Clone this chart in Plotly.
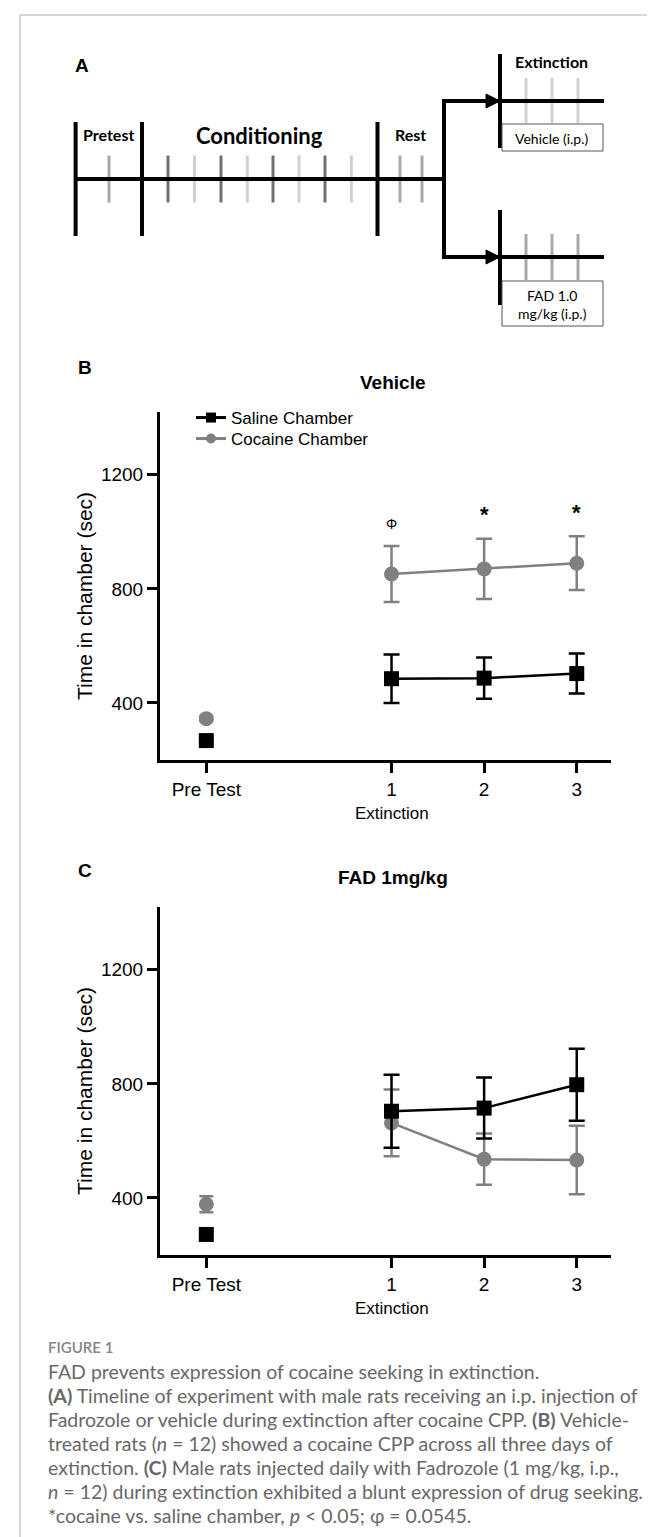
import plotly.graph_objects as go

W, H = 655, 1537

# ------------------------------------------------------------------ data
x_tick_vals = [-1, 1, 2, 3]
x_tick_labels = ["Pre Test", "1", "2", "3"]
pretest_x = [-1]
extinction_days = [1, 2, 3]
y_tick_vals = [400, 800, 1200]

# Panel B - Vehicle
veh_saline_pre = [268]
veh_saline_pre_sem = [8]
veh_cocaine_pre = [345]
veh_cocaine_pre_sem = [8]
veh_saline = [485, 487, 503]
veh_saline_sem = [85, 72, 70]
veh_cocaine = [852, 870, 890]
veh_cocaine_sem = [98, 106, 94]
veh_sig_labels = ["Φ", "*", "*"]

# Panel C - FAD 1 mg/kg
fad_saline_pre = [272]
fad_saline_pre_sem = [8]
fad_cocaine_pre = [378]
fad_cocaine_pre_sem = [28]
fad_saline = [704, 715, 797]
fad_saline_sem = [128, 107, 126]
fad_cocaine = [663, 536, 533]
fad_cocaine_sem = [117, 90, 120]

series_names = ["Saline Chamber", "Cocaine Chamber"]

caption_lines = [
    "FAD prevents expression of cocaine seeking in extinction.",
    "<b>(A)</b> Timeline of experiment with male rats receiving an i.p. injection of",
    "Fadrozole or vehicle during extinction after cocaine CPP. <b>(B)</b> Vehicle-",
    "treated rats (<i>n</i> = 12) showed a cocaine CPP across all three days of",
    "extinction. <b>(C)</b> Male rats injected daily with Fadrozole (1 mg/kg, i.p.,",
    "<i>n</i> = 12) during extinction exhibited a blunt expression of drug seeking.",
    "*cocaine vs. saline chamber, <i>p</i> &lt; 0.05; φ = 0.0545.",
]

# ------------------------------------------------------------------ style
BLACK = "#000000"
GREY = "#808080"
PLOT_FONT = "Liberation Sans, Arial, sans-serif"
DIAG_FONT = "Lato, Open Sans, sans-serif"
CAP_FONT = "Lato, Open Sans, sans-serif"


def py(p):  # pixel from top -> paper y
    return 1 - p / H


def px(p):
    return p / W


fig = go.Figure()

panels = [
    dict(xa="x", ya="y", top=404, bottom=752, title="Vehicle", letter="B", letter_y=359,
         s_pre=veh_saline_pre, s_pre_e=veh_saline_pre_sem,
         c_pre=veh_cocaine_pre, c_pre_e=veh_cocaine_pre_sem,
         s=veh_saline, s_e=veh_saline_sem, c=veh_cocaine, c_e=veh_cocaine_sem),
    dict(xa="x2", ya="y2", top=899, bottom=1247, title="FAD 1mg/kg", letter="C", letter_y=862,
         s_pre=fad_saline_pre, s_pre_e=fad_saline_pre_sem,
         c_pre=fad_cocaine_pre, c_pre_e=fad_cocaine_pre_sem,
         s=fad_saline, s_e=fad_saline_sem, c=fad_cocaine, c_e=fad_cocaine_sem),
]


def err(arr, color, w=8):
    return dict(type="data", array=arr, visible=True, thickness=2.5, width=w, color=color)


for p in panels:
    # cocaine (grey) first, saline (black) on top
    fig.add_trace(go.Scatter(x=pretest_x, y=p["c_pre"], mode="markers",
                             marker=dict(symbol="circle", size=15, color=GREY),
                             error_y=err(p["c_pre_e"], GREY, 7), showlegend=False,
                             xaxis=p["xa"], yaxis=p["ya"]))
    fig.add_trace(go.Scatter(x=extinction_days, y=p["c"], mode="lines+markers",
                             line=dict(color=GREY, width=2.5),
                             marker=dict(symbol="circle", size=15, color=GREY),
                             error_y=err(p["c_e"], GREY), showlegend=False,
                             xaxis=p["xa"], yaxis=p["ya"]))
    fig.add_trace(go.Scatter(x=pretest_x, y=p["s_pre"], mode="markers",
                             marker=dict(symbol="square", size=15, color=BLACK),
                             error_y=err(p["s_pre_e"], BLACK, 7), showlegend=False,
                             xaxis=p["xa"], yaxis=p["ya"]))
    fig.add_trace(go.Scatter(x=extinction_days, y=p["s"], mode="lines+markers",
                             line=dict(color=BLACK, width=2.5),
                             marker=dict(symbol="square", size=15, color=BLACK),
                             error_y=err(p["s_e"], BLACK), showlegend=False,
                             xaxis=p["xa"], yaxis=p["ya"]))

# legend entries (Vehicle panel) - one legend per row
fig.add_trace(go.Scatter(x=[None], y=[None], mode="lines+markers", name=series_names[0],
                         line=dict(color=BLACK, width=3), legend="legend",
                         marker=dict(symbol="square", size=10, color=BLACK)))
fig.add_trace(go.Scatter(x=[None], y=[None], mode="lines+markers", name=series_names[1],
                         line=dict(color=GREY, width=3), legend="legend2",
                         marker=dict(symbol="circle", size=10, color=GREY)))

# invisible anchor trace for the timeline diagram axes
fig.add_trace(go.Scatter(x=[None], y=[None], xaxis="x3", yaxis="y3", showlegend=False,
                         hoverinfo="skip"))

axis_common = dict(showline=True, linewidth=3, linecolor=BLACK, ticks="outside",
                   ticklen=10, tickwidth=3, tickcolor=BLACK, showgrid=False,
                   zeroline=False, tickfont=dict(family=PLOT_FONT, size=19, color=BLACK))

leg_common = dict(xanchor="left", yanchor="middle", bgcolor="rgba(0,0,0,0)",
                  borderwidth=0, itemwidth=30,
                  font=dict(family=PLOT_FONT, size=17, color=BLACK))
layout = dict(
    width=W, height=H, margin=dict(l=0, r=0, t=0, b=0),
    paper_bgcolor="white", plot_bgcolor="rgba(0,0,0,0)",
    showlegend=True,
    legend=dict(leg_common, x=px(183), y=py(410)),
    legend2=dict(leg_common, x=px(183), y=py(431)),
    xaxis3=dict(domain=[0, 1], range=[0, W], visible=False, anchor="y3", fixedrange=True),
    yaxis3=dict(domain=[py(340), 1], range=[340, 0], visible=False, anchor="x3",
                fixedrange=True),
)
for i, p in enumerate(panels):
    sx = "" if i == 0 else "2"
    layout["xaxis" + sx] = dict(axis_common, domain=[px(152), px(603)], range=[-1.5, 3.37],
                                tickvals=x_tick_vals, ticktext=x_tick_labels,
                                anchor="y" + sx)
    layout["yaxis" + sx] = dict(axis_common, domain=[py(p["bottom"]), py(p["top"])],
                                range=[200, 1420], tickvals=y_tick_vals,
                                anchor="x" + sx)
fig.update_layout(**layout)

ann = []
shapes = []


def text_ann(text, x, y, size, family=PLOT_FONT, color=BLACK, weight=None, **kw):
    font = dict(family=family, size=size, color=color)
    if weight is not None:
        font["weight"] = weight
    d = dict(text=text, x=x, y=y, xref="paper", yref="paper", showarrow=False,
             xanchor="center", yanchor="middle", font=font)
    d.update(kw)
    ann.append(d)


# panel titles, letters, axis titles
for p in panels:
    text_ann("<b>%s</b>" % p["letter"], px(77), py(p["letter_y"]), 19)
    text_ann("<b>%s</b>" % p["title"], px(385), py(p["top"] - 30), 19)
    text_ann("Time in chamber (sec)", px(76), py(p["top"] + 184), 21, textangle=-90)
    text_ann("Extinction", px(384), py(p["bottom"] + 53), 17)

# significance markers (Vehicle panel)
for d, m, e, lab in zip(extinction_days, veh_cocaine, veh_cocaine_sem, veh_sig_labels):
    is_star = lab == "*"
    ann.append(dict(text="<b>*</b>" if is_star else lab, x=d, y=m + e, xref="x", yref="y",
                    showarrow=False, xanchor="center", yanchor="middle",
                    yshift=24 if is_star else 22,
                    font=dict(family=PLOT_FONT, size=22 if is_star else 14, color=BLACK)))

# ---------------------------------------------------------- timeline diagram
TL_Y = 171
phase_bars = [67.6, 134, 369.5]
pretest_ticks = [101]
cond_ticks = [160, 186.5, 213, 239.3, 265, 291, 317, 343.4]
rest_ticks = [392, 414]
branch_x = 436
ext_bar_x = 492
ext_end = 596
ext_ticks = [518, 544, 570]
branches = [dict(y=93, bar=(46, 140), tick=(70, 115), box=(116, 143), tcol="#d0d0d0"),
            dict(y=249, bar=(202, 297), tick=(226, 272), box=(273, 318), tcol="#a8a8a8")]
DARK_T, LIGHT_T, MID_T = "#707070", "#d0d0d0", "#a8a8a8"


def line(x0, y0, x1, y1, color=BLACK, width=4):
    shapes.append(dict(type="line", xref="x3", yref="y3", x0=x0, y0=y0, x1=x1, y1=y1,
                       line=dict(color=color, width=width)))


for t in pretest_ticks:
    line(t, TL_Y - 23.5, t, TL_Y + 23.5, MID_T, 3)
for i, t in enumerate(cond_ticks):
    line(t, TL_Y - 23.5, t, TL_Y + 23.5, DARK_T if i % 2 == 0 else LIGHT_T, 3)
for t in rest_ticks:
    line(t, TL_Y - 23.5, t, TL_Y + 23.5, MID_T, 3)
line(phase_bars[0], TL_Y, branch_x, TL_Y)
for b in phase_bars:
    line(b, TL_Y - 57, b, TL_Y + 57)
line(branch_x, branches[0]["y"] - 2, branch_x, branches[1]["y"] + 2)
for br in branches:
    for t in ext_ticks:
        line(t, br["tick"][0], t, br["tick"][1], br["tcol"], 3)
    line(branch_x, br["y"], ext_end, br["y"])
    line(ext_bar_x, br["bar"][0], ext_bar_x, br["bar"][1])
    shapes.append(dict(type="path", xref="x3", yref="y3",
                       path="M %f %f L %f %f L %f %f Z" % (ext_bar_x - 14, br["y"] - 7,
                                                           ext_bar_x, br["y"],
                                                           ext_bar_x - 14, br["y"] + 7),
                       fillcolor=BLACK, line=dict(color=BLACK, width=1)))
    shapes.append(dict(type="rect", xref="x3", yref="y3", x0=ext_bar_x + 2, x1=ext_end - 1,
                       y0=br["box"][0], y1=br["box"][1], fillcolor="white",
                       line=dict(color="#555555", width=1)))

diag_text = [
    ("<b>Pretest</b>", 100, 126, 16), ("<b>Conditioning</b>", 251, 127, 22),
    ("<b>Rest</b>", 402, 126, 16), ("<b>Extinction</b>", 543, 53, 16),
    ("Vehicle (i.p.)", 544, 130, 14), ("FAD 1.0", 544, 287, 14),
    ("mg/kg (i.p.)", 544, 305, 14),
]
for t, x, y, s in diag_text:
    ann.append(dict(text=t, x=x, y=y, xref="x3", yref="y3", showarrow=False,
                    xanchor="center", yanchor="middle",
                    font=dict(family=DIAG_FONT, size=s, color=BLACK)))
ann.append(dict(text="<b>A</b>", x=74, y=57, xref="x3", yref="y3", showarrow=False,
                xanchor="center", yanchor="middle",
                font=dict(family=PLOT_FONT, size=19, color=BLACK)))

# ---------------------------------------------------------- caption
text_ann("FIGURE 1", px(38), py(1339), 15, family=CAP_FONT, color="#858585",
         weight=600, xanchor="left")
for i, t in enumerate(caption_lines):
    text_ann(t, px(38), py(1363 + i * 24), 19.5, family=CAP_FONT, color="#686868",
             weight=400, xanchor="left")

# frame
shapes.append(dict(type="line", xref="paper", yref="paper", x0=px(12), x1=1,
                   y0=py(7), y1=py(7), line=dict(color="#c8c8c8", width=1.5)))
shapes.append(dict(type="line", xref="paper", yref="paper", x0=px(12), x1=px(12),
                   y0=py(7), y1=0, line=dict(color="#c8c8c8", width=1.5)))

fig.update_layout(annotations=ann, shapes=shapes)
fig.write_html("out.html")
